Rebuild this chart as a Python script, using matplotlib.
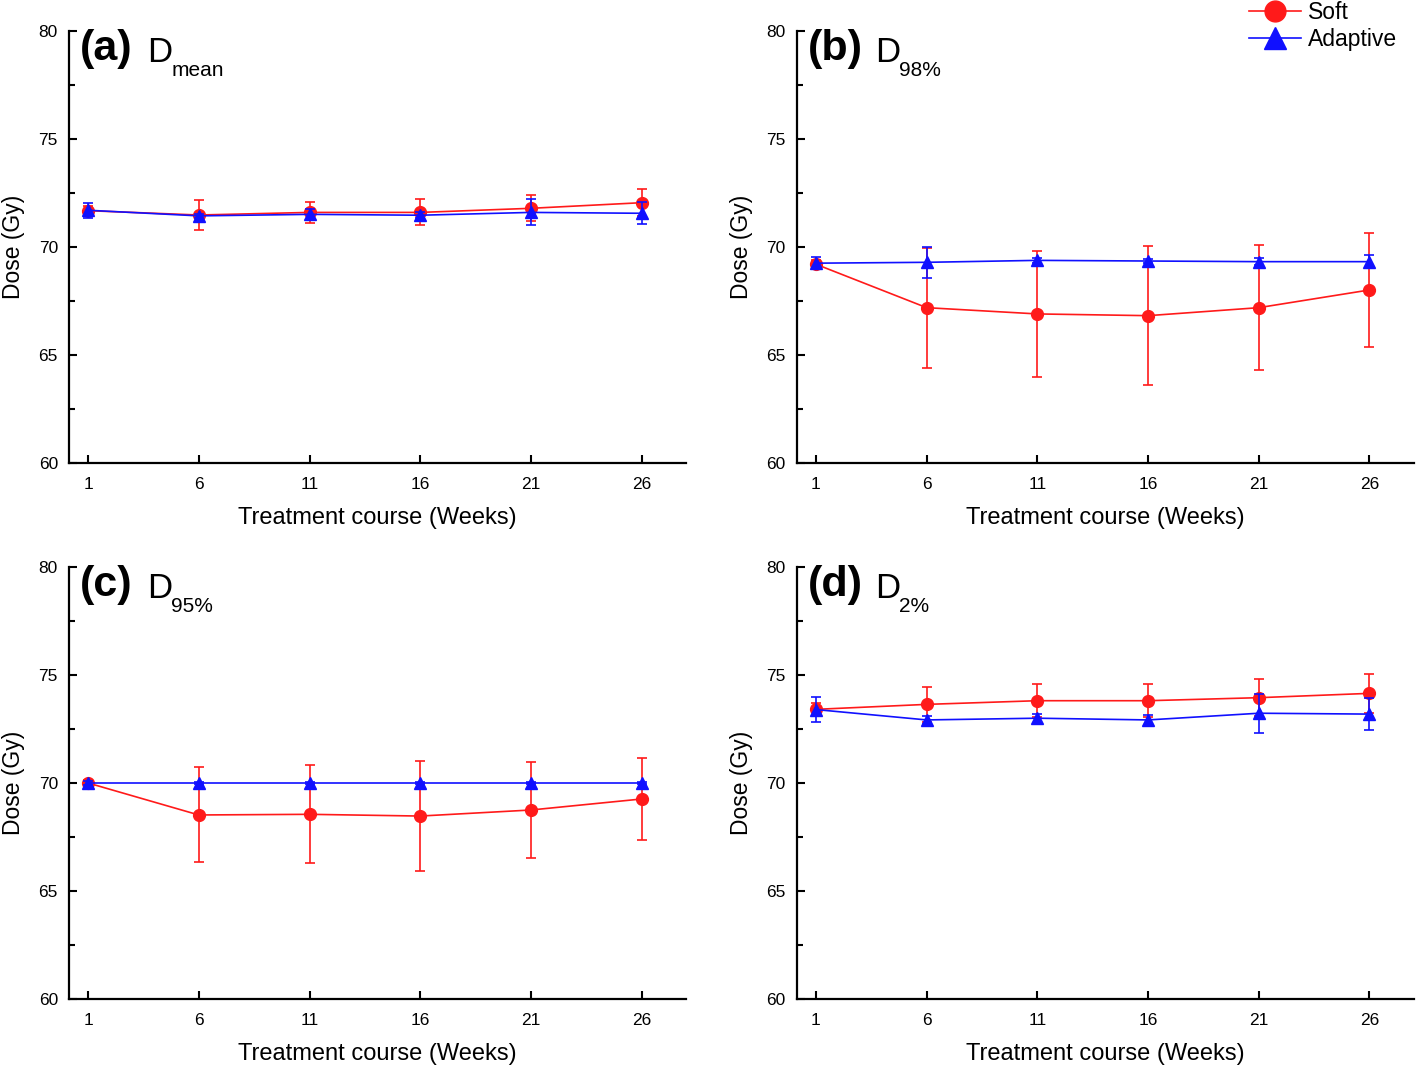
import matplotlib
matplotlib.use("Agg")
import matplotlib.pyplot as plt
from matplotlib.lines import Line2D

plt.rcParams['font.family'] = ['Liberation Sans', 'DejaVu Sans']

# treatment weeks
weeks = [1, 6, 11, 16, 21, 26]

# (a) D_mean
soft_mean = [71.68, 71.48, 71.6, 71.6, 71.79, 72.05]
soft_mean_err = [0.2, 0.69, 0.5, 0.6, 0.6, 0.62]
adapt_mean = [71.7, 71.44, 71.51, 71.47, 71.6, 71.56]
adapt_mean_err = [0.35, 0.1, 0.25, 0.15, 0.6, 0.5]

# (b) D_98%
soft_98 = [69.2, 67.19, 66.9, 66.82, 67.19, 68.01]
soft_98_err = [0.2, 2.77, 2.9, 3.22, 2.9, 2.65]
adapt_98 = [69.25, 69.29, 69.38, 69.35, 69.32, 69.32]
adapt_98_err = [0.28, 0.72, 0.1, 0.1, 0.15, 0.3]

# (c) D_95%
soft_95 = [70.0, 68.52, 68.55, 68.47, 68.75, 69.26]
soft_95_err = [0.15, 2.2, 2.27, 2.56, 2.22, 1.9]
adapt_95 = [70.0, 70.0, 70.0, 70.0, 70.0, 70.0]
adapt_95_err = [0.1, 0.05, 0.05, 0.05, 0.05, 0.05]

# (d) D_2%
soft_2 = [73.41, 73.64, 73.81, 73.81, 73.95, 74.15]
soft_2_err = [0.3, 0.82, 0.76, 0.76, 0.85, 0.9]
adapt_2 = [73.4, 72.92, 73.0, 72.92, 73.23, 73.19]
adapt_2_err = [0.57, 0.2, 0.2, 0.25, 0.9, 0.75]

panels = [
    ("(a)", "mean", soft_mean, soft_mean_err, adapt_mean, adapt_mean_err),
    ("(b)", "98%", soft_98, soft_98_err, adapt_98, adapt_98_err),
    ("(c)", "95%", soft_95, soft_95_err, adapt_95, adapt_95_err),
    ("(d)", "2%", soft_2, soft_2_err, adapt_2, adapt_2_err),
]

RED = '#ff1a1a'
BLUE = '#1010ff'

fig = plt.figure(figsize=(14.18, 10.68), dpi=100)

# axes boxes in figure fraction (left, bottom, width, height)
W, H = 0.435, 0.4045
boxes = [(0.0487, 0.5665), (0.562, 0.5665), (0.0487, 0.0646), (0.562, 0.0646)]

for (tag, sub, s, se, a, ae), (l, b) in zip(panels, boxes):
    ax = fig.add_axes([l, b, W, H])
    ax.errorbar(weeks, s, yerr=se, color=RED, marker='o', ms=8.5, lw=1.2,
                elinewidth=1.2, capsize=3.5, capthick=1.2, zorder=3)
    ax.errorbar(weeks, a, yerr=ae, color=BLUE, marker='^', ms=9, lw=1.2,
                elinewidth=1.2, capsize=3.5, capthick=1.2, zorder=4)
    ax.set_xlim(0.14, 28.0)
    ax.set_ylim(60, 80)
    ax.set_xticks(weeks)
    ax.set_yticks([60, 65, 70, 75, 80])
    ax.set_yticks([62.5, 67.5, 72.5, 77.5], minor=True)
    ax.tick_params(direction='in', length=6, width=1.5, labelsize=12.5, pad=10)
    ax.tick_params(which='minor', direction='in', length=4, width=1.5)
    ax.tick_params(axis='y', pad=8)
    for side in ['top', 'right']:
        ax.spines[side].set_visible(False)
    for side in ['left', 'bottom']:
        ax.spines[side].set_linewidth(1.6)
    ax.set_xlabel('Treatment course (Weeks)', fontsize=17, labelpad=11)
    ax.set_ylabel('Dose (Gy)', fontsize=16.5, labelpad=10)
    # panel label with subscripted D
    ax.text(0.018, 0.933, tag, transform=ax.transAxes, fontsize=31,
            fontweight='bold')
    ax.text(0.126, 0.928, 'D', transform=ax.transAxes, fontsize=25)
    ax.text(0.166, 0.896, sub, transform=ax.transAxes, fontsize=15)

handles = [
    Line2D([], [], color=RED, marker='o', ms=15, lw=1.2),
    Line2D([], [], color=BLUE, marker='^', ms=16, lw=1.2),
]
fig.legend(handles, ['Soft', 'Adaptive'], loc='upper right',
           bbox_to_anchor=(1.0, 1.018), frameon=False, fontsize=16.5,
           handlelength=2.3, handletextpad=0.3, labelspacing=0.15)

fig.savefig('out.png', dpi=100)
